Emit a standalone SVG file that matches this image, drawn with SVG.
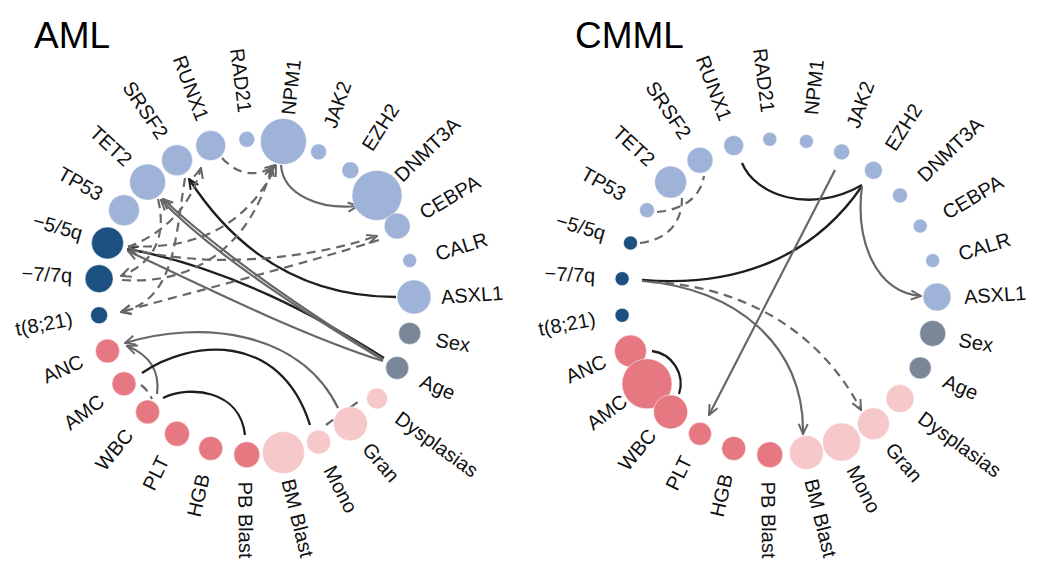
<svg xmlns="http://www.w3.org/2000/svg" width="1039" height="579" viewBox="0 0 1039 579">
<style>
.t{font-family:"Liberation Sans",Arial,sans-serif;font-size:20px;fill:#111;dominant-baseline:central}
.ttl{font-family:"Liberation Sans",Arial,sans-serif;font-size:37px;fill:#000}
.s{text-anchor:start}.e{text-anchor:end}
circle{stroke:#fff;stroke-width:1;stroke-opacity:.5}
.mu{fill:#9fb2d8}.cy{fill:#1c5080}.dm{fill:#7a8799}.bl{fill:#e67882}.lp{fill:#f6c8c9}
.ek{fill:none;stroke:#1e1e1e;stroke-width:2.3}
.eg{fill:none;stroke:#676767;stroke-width:2.2}
.ed{fill:none;stroke:#676767;stroke-width:2.2;stroke-dasharray:9 6}
</style>
<defs>
<marker id="ag" viewBox="0 0 12 12" refX="11" refY="6" markerWidth="12" markerHeight="12" markerUnits="userSpaceOnUse" orient="auto"><path d="M1,1.5 L11,6 L1,10.5" fill="none" stroke="#676767" stroke-width="2"/></marker>
<marker id="ak" viewBox="0 0 12 12" refX="11" refY="6" markerWidth="12" markerHeight="12" markerUnits="userSpaceOnUse" orient="auto"><path d="M1,1.5 L11,6 L1,10.5" fill="none" stroke="#1e1e1e" stroke-width="2"/></marker>
</defs>
<rect width="1039" height="579" fill="#fff"/>
<text class="ttl" x="34" y="48">AML</text>
<text class="ttl" x="575" y="48">CMML</text>

<g id="aml-edges">
<path class="eg" d="M281 165 C283 195 320 210 358 206" marker-end="url(#ag)"/>
<path class="ed" d="M222 158 C240 178 262 176 275 165" marker-end="url(#ag)"/>
<path class="ek" d="M396 297 C300 297 235 250 189 179" marker-end="url(#ak)"/>
<path class="ek" d="M384 358 C320 318 230 268 128 249" marker-end="url(#ak)"/>
<path class="eg" d="M383 361 C300 335 190 280 128 251" marker-end="url(#ag)"/>
<path class="eg" d="M383 359 C320 320 230 262 163 199" marker-end="url(#ag)"/>
<path class="eg" d="M383 360 C300 310 215 255 161 200" marker-end="url(#ag)"/>
<path class="eg" d="M338 408 C300 330 200 320 125 343" marker-end="url(#ag)"/>
<path class="eg" d="M157 394 C160 372 150 355 127 346" marker-end="url(#ag)"/>
<path class="ek" d="M142 373 C190 340 280 330 310 425"/>
<path class="ek" d="M163 398 C190 385 240 390 245 435"/>
<path class="ed" d="M141 385 Q148 390 152 399"/>
<path class="ed" d="M326 425 L362 399"/>
<path class="ed" d="M158 199 C168 240 150 265 121 276" marker-end="url(#ag)"/>
<path class="ed" d="M185 178 C175 240 175 300 121 312" marker-end="url(#ag)"/>
<path class="ed" d="M128 247 C160 235 190 210 201 168" marker-end="url(#ag)"/>
<path class="ed" d="M122 280 C190 285 250 250 272 166" marker-end="url(#ag)"/>
<path class="ed" d="M128 246 C190 250 245 230 276 166" marker-end="url(#ag)"/>
<path class="ed" d="M128 248 C200 268 300 262 377 236" marker-end="url(#ag)"/>
<path class="ed" d="M379 240 C300 265 200 290 121 312" marker-end="url(#ag)"/>
</g>

<g id="cmml-edges">
<path class="ed" d="M640 243 C665 240 682 225 682 198"/>
<path class="ed" d="M657 212 C680 210 700 200 704 176"/>
<path class="ek" d="M742 163 C755 195 810 215 862 185"/>
<path class="ek" d="M862 186 C815 255 740 288 642 280"/>
<path class="eg" d="M862 186 C855 240 875 292 921 296" marker-end="url(#ag)"/>
<path class="eg" d="M835 170 L709 415" marker-end="url(#ag)"/>
<path class="eg" d="M642 281 C735 288 805 345 803 434" marker-end="url(#ag)"/>
<path class="ed" d="M650 282 C740 285 820 330 861 410" marker-end="url(#ag)"/>
<path class="ek" d="M652 351 A33 33 0 0 1 679 394"/>
</g>

<g id="aml-ASXL1"><circle class="mu" cx="414" cy="297" r="17"/><text class="t s" transform="translate(441,297) rotate(-4)">ASXL1</text></g>
<g id="aml-Sex"><circle class="dm" cx="409.7" cy="333.4" r="11"/><text class="t s" transform="translate(436,339.6) rotate(9.3)">Sex</text></g>
<g id="aml-Age"><circle class="dm" cx="397.2" cy="367.9" r="11.5"/><text class="t s" transform="translate(421.3,380) rotate(22.7)">Age</text></g>
<g id="aml-Dysplasias"><circle class="lp" cx="377" cy="398.6" r="10.5"/><text class="t s" transform="translate(397.7,415.9) rotate(36)">Dysplasias</text></g>
<g id="aml-Gran"><circle class="lp" cx="350.4" cy="423.7" r="17"/><text class="t s" transform="translate(366.5,445.4) rotate(49.3)">Gran</text></g>
<g id="aml-Mono"><circle class="lp" cx="318.6" cy="442.1" r="12"/><text class="t s" transform="translate(329.3,466.9) rotate(62.7)">Mono</text></g>
<g id="aml-BMBlast"><circle class="lp" cx="283.4" cy="452.6" r="21"/><text class="t s" transform="translate(288.1,479.2) rotate(76)">BM Blast</text></g>
<g id="aml-PBBlast"><circle class="bl" cx="246.8" cy="454.7" r="13"/><text class="t s" transform="translate(245.2,481.7) rotate(89.3)">PB Blast</text></g>
<g id="aml-HGB"><circle class="bl" cx="210.7" cy="448.4" r="12"/><text class="t e" transform="translate(203,474.2) rotate(-77.3)">HGB</text></g>
<g id="aml-PLT"><circle class="bl" cx="177" cy="433.8" r="12.5"/><text class="t e" transform="translate(163.5,457.2) rotate(-64)">PLT</text></g>
<g id="aml-WBC"><circle class="bl" cx="147.6" cy="411.9" r="12"/><text class="t e" transform="translate(129,431.6) rotate(-50.7)">WBC</text></g>
<g id="aml-AMC"><circle class="bl" cx="124" cy="383.8" r="12"/><text class="t e" transform="translate(101.4,398.6) rotate(-37.3)">AMC</text></g>
<g id="aml-ANC"><circle class="bl" cx="107.5" cy="351" r="12"/><text class="t e" transform="translate(82.2,360.3) rotate(-24)">ANC</text></g>
<g id="aml-t821"><circle class="cy" cx="99.1" cy="315.3" r="8.5"/><text class="t e" transform="translate(72.2,318.5) rotate(-10.7)">t(8;21)</text></g>
<g id="aml-m7"><circle class="cy" cx="99.1" cy="278.7" r="14"/><text class="t e" transform="translate(72.2,275.5) rotate(2.7)">−7/7q</text></g>
<g id="aml-m5"><circle class="cy" cx="107.5" cy="243" r="16"/><text class="t e" transform="translate(82.2,233.7) rotate(16)">−5/5q</text></g>
<g id="aml-TP53"><circle class="mu" cx="124" cy="210.2" r="15.5"/><text class="t e" transform="translate(101.4,195.4) rotate(29.3)">TP53</text></g>
<g id="aml-TET2"><circle class="mu" cx="147.6" cy="182.1" r="18"/><text class="t e" transform="translate(129,162.4) rotate(42.7)">TET2</text></g>
<g id="aml-SRSF2"><circle class="mu" cx="177" cy="160.2" r="15.5"/><text class="t e" transform="translate(163.5,136.8) rotate(56)">SRSF2</text></g>
<g id="aml-RUNX1"><circle class="mu" cx="210.7" cy="145.6" r="15"/><text class="t e" transform="translate(203,119.8) rotate(69.3)">RUNX1</text></g>
<g id="aml-RAD21"><circle class="mu" cx="246.8" cy="139.3" r="8"/><text class="t e" transform="translate(245.2,112.3) rotate(82.7)">RAD21</text></g>
<g id="aml-NPM1"><circle class="mu" cx="283.4" cy="141.4" r="23"/><text class="t s" transform="translate(288.1,114.8) rotate(-84)">NPM1</text></g>
<g id="aml-JAK2"><circle class="mu" cx="318.6" cy="151.9" r="8"/><text class="t s" transform="translate(329.3,127.1) rotate(-70.7)">JAK2</text></g>
<g id="aml-EZH2"><circle class="mu" cx="350.4" cy="170.3" r="8.5"/><text class="t s" transform="translate(366.5,148.6) rotate(-57.3)">EZH2</text></g>
<g id="aml-DNMT3A"><circle class="mu" cx="377" cy="195.4" r="25"/><text class="t s" transform="translate(397.7,178.1) rotate(-44)">DNMT3A</text></g>
<g id="aml-CEBPA"><circle class="mu" cx="397.2" cy="226.1" r="13"/><text class="t s" transform="translate(421.3,214) rotate(-30.7)">CEBPA</text></g>
<g id="aml-CALR"><circle class="mu" cx="409.7" cy="260.6" r="7"/><text class="t s" transform="translate(436,254.4) rotate(-17.3)">CALR</text></g>

<g id="cmml-ASXL1"><circle class="mu" cx="937" cy="297" r="14"/><text class="t s" transform="translate(964,297) rotate(-4)">ASXL1</text></g>
<g id="cmml-Sex"><circle class="dm" cx="932.7" cy="333.4" r="13"/><text class="t s" transform="translate(959,339.6) rotate(9.3)">Sex</text></g>
<g id="cmml-Age"><circle class="dm" cx="920.2" cy="367.9" r="11"/><text class="t s" transform="translate(944.3,380) rotate(22.7)">Age</text></g>
<g id="cmml-Dysplasias"><circle class="lp" cx="900" cy="398.6" r="14"/><text class="t s" transform="translate(920.7,415.9) rotate(36)">Dysplasias</text></g>
<g id="cmml-Gran"><circle class="lp" cx="873.4" cy="423.7" r="16"/><text class="t s" transform="translate(889.5,445.4) rotate(49.3)">Gran</text></g>
<g id="cmml-Mono"><circle class="lp" cx="841.6" cy="442.1" r="19"/><text class="t s" transform="translate(852.3,466.9) rotate(62.7)">Mono</text></g>
<g id="cmml-BMBlast"><circle class="lp" cx="806.4" cy="452.6" r="17"/><text class="t s" transform="translate(811.1,479.2) rotate(76)">BM Blast</text></g>
<g id="cmml-PBBlast"><circle class="bl" cx="769.8" cy="454.7" r="13"/><text class="t s" transform="translate(768.2,481.7) rotate(89.3)">PB Blast</text></g>
<g id="cmml-HGB"><circle class="bl" cx="733.7" cy="448.4" r="12"/><text class="t e" transform="translate(726,474.2) rotate(-77.3)">HGB</text></g>
<g id="cmml-PLT"><circle class="bl" cx="700" cy="433.8" r="11.5"/><text class="t e" transform="translate(686.5,457.2) rotate(-64)">PLT</text></g>
<g id="cmml-ANC"><circle class="bl" cx="630.5" cy="351" r="16"/><text class="t e" transform="translate(605.2,360.3) rotate(-24)">ANC</text></g>
<g id="cmml-AMC"><circle class="bl" cx="647" cy="383.8" r="25"/><text class="t e" transform="translate(624.4,398.6) rotate(-37.3)">AMC</text></g>
<g id="cmml-WBC"><circle class="bl" cx="670.6" cy="411.9" r="17"/><text class="t e" transform="translate(652,431.6) rotate(-50.7)">WBC</text></g>
<g id="cmml-t821"><circle class="cy" cx="622.1" cy="315.3" r="7"/><text class="t e" transform="translate(595.2,318.5) rotate(-10.7)">t(8;21)</text></g>
<g id="cmml-m7"><circle class="cy" cx="622.1" cy="278.7" r="7"/><text class="t e" transform="translate(595.2,275.5) rotate(2.7)">−7/7q</text></g>
<g id="cmml-m5"><circle class="cy" cx="630.5" cy="243" r="7"/><text class="t e" transform="translate(605.2,233.7) rotate(16)">−5/5q</text></g>
<g id="cmml-TP53"><circle class="mu" cx="647" cy="210.2" r="7.5"/><text class="t e" transform="translate(624.4,195.4) rotate(29.3)">TP53</text></g>
<g id="cmml-TET2"><circle class="mu" cx="670.6" cy="182.1" r="16"/><text class="t e" transform="translate(652,162.4) rotate(42.7)">TET2</text></g>
<g id="cmml-SRSF2"><circle class="mu" cx="700" cy="160.2" r="13"/><text class="t e" transform="translate(686.5,136.8) rotate(56)">SRSF2</text></g>
<g id="cmml-RUNX1"><circle class="mu" cx="733.7" cy="145.6" r="10"/><text class="t e" transform="translate(726,119.8) rotate(69.3)">RUNX1</text></g>
<g id="cmml-RAD21"><circle class="mu" cx="769.8" cy="139.3" r="7"/><text class="t e" transform="translate(768.2,112.3) rotate(82.7)">RAD21</text></g>
<g id="cmml-NPM1"><circle class="mu" cx="806.4" cy="141.4" r="7"/><text class="t s" transform="translate(811.1,114.8) rotate(-84)">NPM1</text></g>
<g id="cmml-JAK2"><circle class="mu" cx="841.6" cy="151.9" r="8"/><text class="t s" transform="translate(852.3,127.1) rotate(-70.7)">JAK2</text></g>
<g id="cmml-EZH2"><circle class="mu" cx="873.4" cy="170.3" r="9"/><text class="t s" transform="translate(889.5,148.6) rotate(-57.3)">EZH2</text></g>
<g id="cmml-DNMT3A"><circle class="mu" cx="900" cy="195.4" r="7.5"/><text class="t s" transform="translate(920.7,178.1) rotate(-44)">DNMT3A</text></g>
<g id="cmml-CEBPA"><circle class="mu" cx="920.2" cy="226.1" r="7"/><text class="t s" transform="translate(944.3,214) rotate(-30.7)">CEBPA</text></g>
<g id="cmml-CALR"><circle class="mu" cx="932.7" cy="260.6" r="7"/><text class="t s" transform="translate(959,254.4) rotate(-17.3)">CALR</text></g>
</svg>
